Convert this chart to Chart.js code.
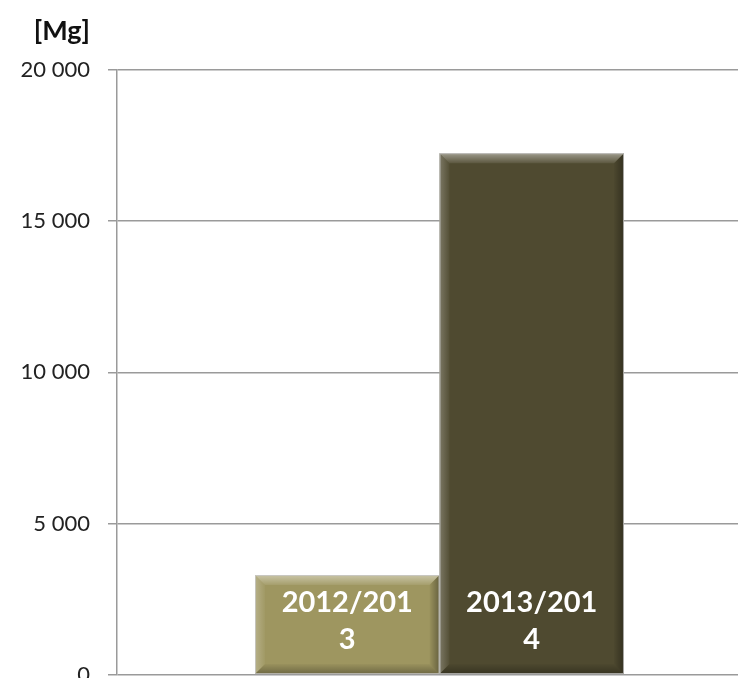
<!DOCTYPE html>
<html>
<head>
<meta charset="utf-8">
<script src="https://cdn.jsdelivr.net/npm/chart.js@4.4.1/dist/chart.umd.min.js"></script>
<style>
  html, body { margin: 0; padding: 0; background: #fff; overflow: hidden; }
  #wrap { position: relative; width: 738px; height: 678px; overflow: hidden; }
  #box { position: absolute; left: 0; top: 0; width: 762px; height: 706px; }
</style>
</head>
<body>
<div id="wrap"><div id="box"><canvas id="c" width="762" height="706"></canvas></div></div>
<script>
// ---- data ----
const seasons = ['2012/2013', '2013/2014'];
const seasonLines = [['2012/201', '3'], ['2013/201', '4']];
const values = [3300, 17250];
const barColors = ['#9E9660', '#4F4A30'];
const yTicks = [0, 5000, 10000, 15000, 20000];
const unitLabel = '[Mg]';

function fmt(v) { return String(v).replace(/\B(?=(\d{3})+(?!\d))/g, ' '); }

const unitPlugin = {
  id: 'unitLabel',
  afterDraw(chart) {
    const ctx = chart.ctx;
    ctx.save();
    ctx.fillStyle = '#111';
    ctx.font = 'bold 27px Lato, "Open Sans", sans-serif';
    ctx.textAlign = 'right';
    ctx.textBaseline = 'middle';
    ctx.fillText(unitLabel, 90, 31);
    ctx.restore();
  }
};

const bevelPlugin = {
  id: 'bevel',
  afterDatasetsDraw(chart) {
    const ctx = chart.ctx;
    chart.data.datasets.forEach((ds, i) => {
      const meta = chart.getDatasetMeta(i);
      meta.data.forEach((el) => {
        const p = el.getProps(['x', 'y', 'base', 'width'], true);
        const l = p.x - p.width / 2, r = p.x + p.width / 2, t = p.y, b = p.base;
        const d = 10;
        ctx.save();
        let g = ctx.createLinearGradient(0, t, 0, t + d);
        g.addColorStop(0, 'rgba(255,255,255,0.45)');
        g.addColorStop(1, 'rgba(255,255,255,0.08)');
        ctx.fillStyle = g;
        ctx.beginPath(); ctx.moveTo(l, t); ctx.lineTo(r, t); ctx.lineTo(r - d, t + d); ctx.lineTo(l + d, t + d); ctx.closePath(); ctx.fill();
        g = ctx.createLinearGradient(l, 0, l + d, 0);
        g.addColorStop(0, 'rgba(255,255,255,0.25)');
        g.addColorStop(1, 'rgba(255,255,255,0.03)');
        ctx.fillStyle = g;
        ctx.beginPath(); ctx.moveTo(l, t); ctx.lineTo(l + d, t + d); ctx.lineTo(l + d, b - d); ctx.lineTo(l, b); ctx.closePath(); ctx.fill();
        g = ctx.createLinearGradient(r - d, 0, r, 0);
        g.addColorStop(0, 'rgba(0,0,0,0.03)');
        g.addColorStop(1, 'rgba(0,0,0,0.35)');
        ctx.fillStyle = g;
        ctx.beginPath(); ctx.moveTo(r, t); ctx.lineTo(r, b); ctx.lineTo(r - d, b - d); ctx.lineTo(r - d, t + d); ctx.closePath(); ctx.fill();
        g = ctx.createLinearGradient(0, b - d, 0, b);
        g.addColorStop(0, 'rgba(0,0,0,0.03)');
        g.addColorStop(1, 'rgba(0,0,0,0.3)');
        ctx.fillStyle = g;
        ctx.beginPath(); ctx.moveTo(l, b); ctx.lineTo(r, b); ctx.lineTo(r - d, b - d); ctx.lineTo(l + d, b - d); ctx.closePath(); ctx.fill();
        ctx.strokeStyle = 'rgba(200,200,200,0.8)';
        ctx.lineWidth = 1;
        ctx.strokeRect(l + 0.5, t + 0.5, p.width - 1, b - t - 1);
        ctx.fillStyle = '#ffffff';
        ctx.font = 'bold 29px Lato, "Open Sans", sans-serif';
        ctx.textAlign = 'center';
        ctx.textBaseline = 'middle';
        const lines = seasonLines[i];
        ctx.fillText(lines[0], p.x, b - 71);
        ctx.fillText(lines[1], p.x, b - 34);
        ctx.restore();
      });
    });
  }
};

new Chart(document.getElementById('c'), {
  type: 'bar',
  data: {
    labels: [''],
    datasets: seasons.map((s, i) => ({
      label: s,
      data: [values[i]],
      backgroundColor: barColors[i],
      borderWidth: 0,
      barPercentage: 1,
      categoryPercentage: 0.572
    }))
  },
  options: {
    responsive: false,
    animation: false,
    layout: { padding: { left: 0, right: 0, top: 70, bottom: 0 } },
    plugins: {
      legend: { display: false },
      tooltip: { enabled: false },
      title: { display: false }
    },
    scales: {
      x: {
        display: true,
        grid: { display: false },
        ticks: { display: false },
        border: { display: false }
      },
      y: {
        min: 0,
        max: 20000,
        afterBuildTicks(scale) { scale.ticks = yTicks.map(v => ({ value: v })); },
        afterFit(scale) { scale.width = 117; },
        ticks: {
          color: '#222',
          padding: 18,
          font: { family: 'Lato, "Open Sans", sans-serif', size: 22 },
          callback: (v) => fmt(v)
        },
        grid: { color: '#9a9a9a', lineWidth: 1.5, tickLength: 9, drawTicks: true },
        border: { display: true, color: '#9a9a9a', width: 1.5 }
      }
    }
  },
  plugins: [bevelPlugin, unitPlugin]
});
</script>
</body>
</html>
